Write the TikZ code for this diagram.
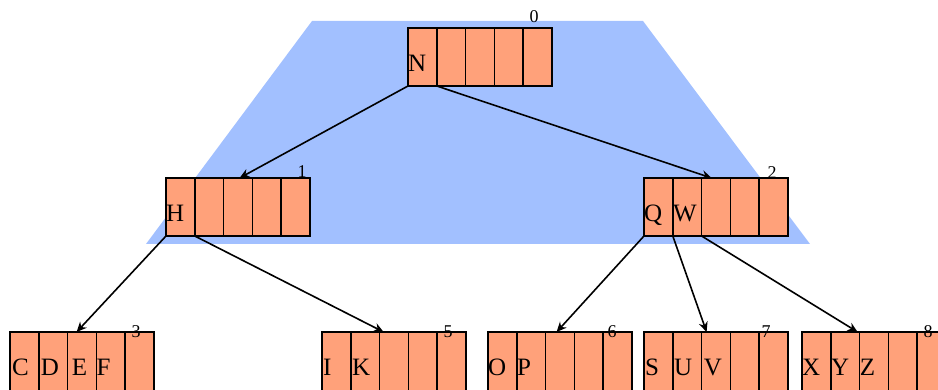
\documentclass[tikz,border=0pt]{standalone}
\usepackage{fontspec}
\setmainfont{Liberation Serif}
\usepackage{tikz}
\usetikzlibrary{calc,positioning,arrows.meta}

\definecolor{keyfill}{RGB}{255,161,122}
\definecolor{subtree}{RGB}{162,192,255}

\tikzset{
  cell/.style={fill=keyfill, minimum width=28.8pt, minimum height=58pt,
    inner sep=0pt, outer sep=0pt, anchor=north west},
  border/.style={line width=1.6pt},
  leaf/.style={minimum height=66pt},
  key/.style={font=\fontsize{25}{25}\selectfont, inner sep=0pt, anchor=base west},
  idx/.style={font=\fontsize{18}{18}\selectfont, inner sep=0pt, anchor=south},
  ptr/.style={-{Stealth[length=10pt,width=9pt]}, line width=1.6pt},
}

% one B-tree page: five cells named <name>-1 ... <name>-5
\newcommand{\record}[4][]{%
  \foreach \i in {1,...,5}
    \node[cell,#1] (#2-\i) at ({#3+(\i-1)*28.8},#4) {};
  \foreach \i in {1,...,5}
    \draw[border] (#2-\i.north west) rectangle (#2-\i.south east);
}

\begin{document}
\begin{tikzpicture}[x=1pt, y=-1pt]
    \useasboundingbox (0,0) rectangle (938,390);

    % Subtree highlight
    \fill[subtree] (312,21) -- (643,21) -- (810,244) -- (146,244) -- cycle;

    % Root
    \record{n0}{408}{28}
    \node[key] (kN) at ([yshift=-44pt]n0-1.north west) {N};
    \node[idx] (i0) at ([xshift=-18pt,yshift=5pt]n0-5.north east) {0};

    % Inner pages
    \record{n1}{166}{178}
    \node[key] (kH) at ([yshift=-44pt]n1-1.north west) {H};
    \node[idx] (i1) at ([xshift=-8pt,yshift=0pt]n1-5.north east) {1};

    \record{n2}{644}{178}
    \node[key] (kQ) at ([yshift=-44pt]n2-1.north west) {Q};
    \node[key] (kW) at ([yshift=-44pt]n2-2.north west) {W};
    \node[idx] (i2) at ([xshift=-16pt,yshift=-1pt]n2-5.north east) {2};

    % Leaves
    \record[leaf]{n3}{10}{332}
    \node[key] (kC) at ([xshift=2pt,yshift=-43pt]n3-1.north west) {C};
    \node[key] (kD) at ([xshift=2pt,yshift=-43pt]n3-2.north west) {D};
    \node[key] (kE) at ([xshift=4pt,yshift=-43pt]n3-3.north west) {E};
    \node[key] (kF) at ([xshift=0pt,yshift=-43pt]n3-4.north west) {F};
    \node[idx] (i3) at ([xshift=-18pt,yshift=-6pt]n3-5.north east) {3};

    \record[leaf]{n5}{322}{332}
    \node[key] (kI) at ([xshift=1pt,yshift=-43pt]n5-1.north west) {I};
    \node[key] (kK) at ([xshift=1pt,yshift=-43pt]n5-2.north west) {K};
    \node[idx] (i5) at ([xshift=-18pt,yshift=-6pt]n5-5.north east) {5};

    \record[leaf]{n6}{488}{332}
    \node[key] (kO) at ([yshift=-43pt]n6-1.north west) {O};
    \node[key] (kP) at ([yshift=-43pt]n6-2.north west) {P};
    \node[idx] (i6) at ([xshift=-20pt,yshift=-6pt]n6-5.north east) {6};

    \record[leaf]{n7}{644}{332}
    \node[key] (kS) at ([xshift=1pt,yshift=-43pt]n7-1.north west) {S};
    \node[key] (kU) at ([xshift=1pt,yshift=-43pt]n7-2.north west) {U};
    \node[key] (kV) at ([xshift=2pt,yshift=-43pt]n7-3.north west) {V};
    \node[idx] (i7) at ([xshift=-22pt,yshift=-6pt]n7-5.north east) {7};

    \record[leaf]{n8}{802}{332}
    \node[key] (kX) at ([yshift=-43pt]n8-1.north west) {X};
    \node[key] (kY) at ([yshift=-43pt]n8-2.north west) {Y};
    \node[key] (kZ) at ([yshift=-43pt]n8-3.north west) {Z};
    \node[idx] (i8) at ([xshift=-18pt,yshift=-6pt]n8-5.north east) {8};

    % Child pointers
    \draw[ptr] (n0-1.south west) -- ([xshift=16pt]n1-3.north west);
    \draw[ptr] (n0-1.south east) -- ([xshift=10pt]n2-3.north west);
    \draw[ptr] (n1-1.south west) -- ([xshift=9pt]n3-3.north west);
    \draw[ptr] (n1-1.south east) -- ([xshift=4pt]n5-3.north west);
    \draw[ptr] (n2-1.south west) -- ([xshift=11pt]n6-3.north west);
    \draw[ptr] (n2-2.south west) -- ([xshift=5pt]n7-3.north west);
    \draw[ptr] (n2-2.south east) -- ([xshift=-2pt]n8-3.north west);
\end{tikzpicture}
\end{document}
